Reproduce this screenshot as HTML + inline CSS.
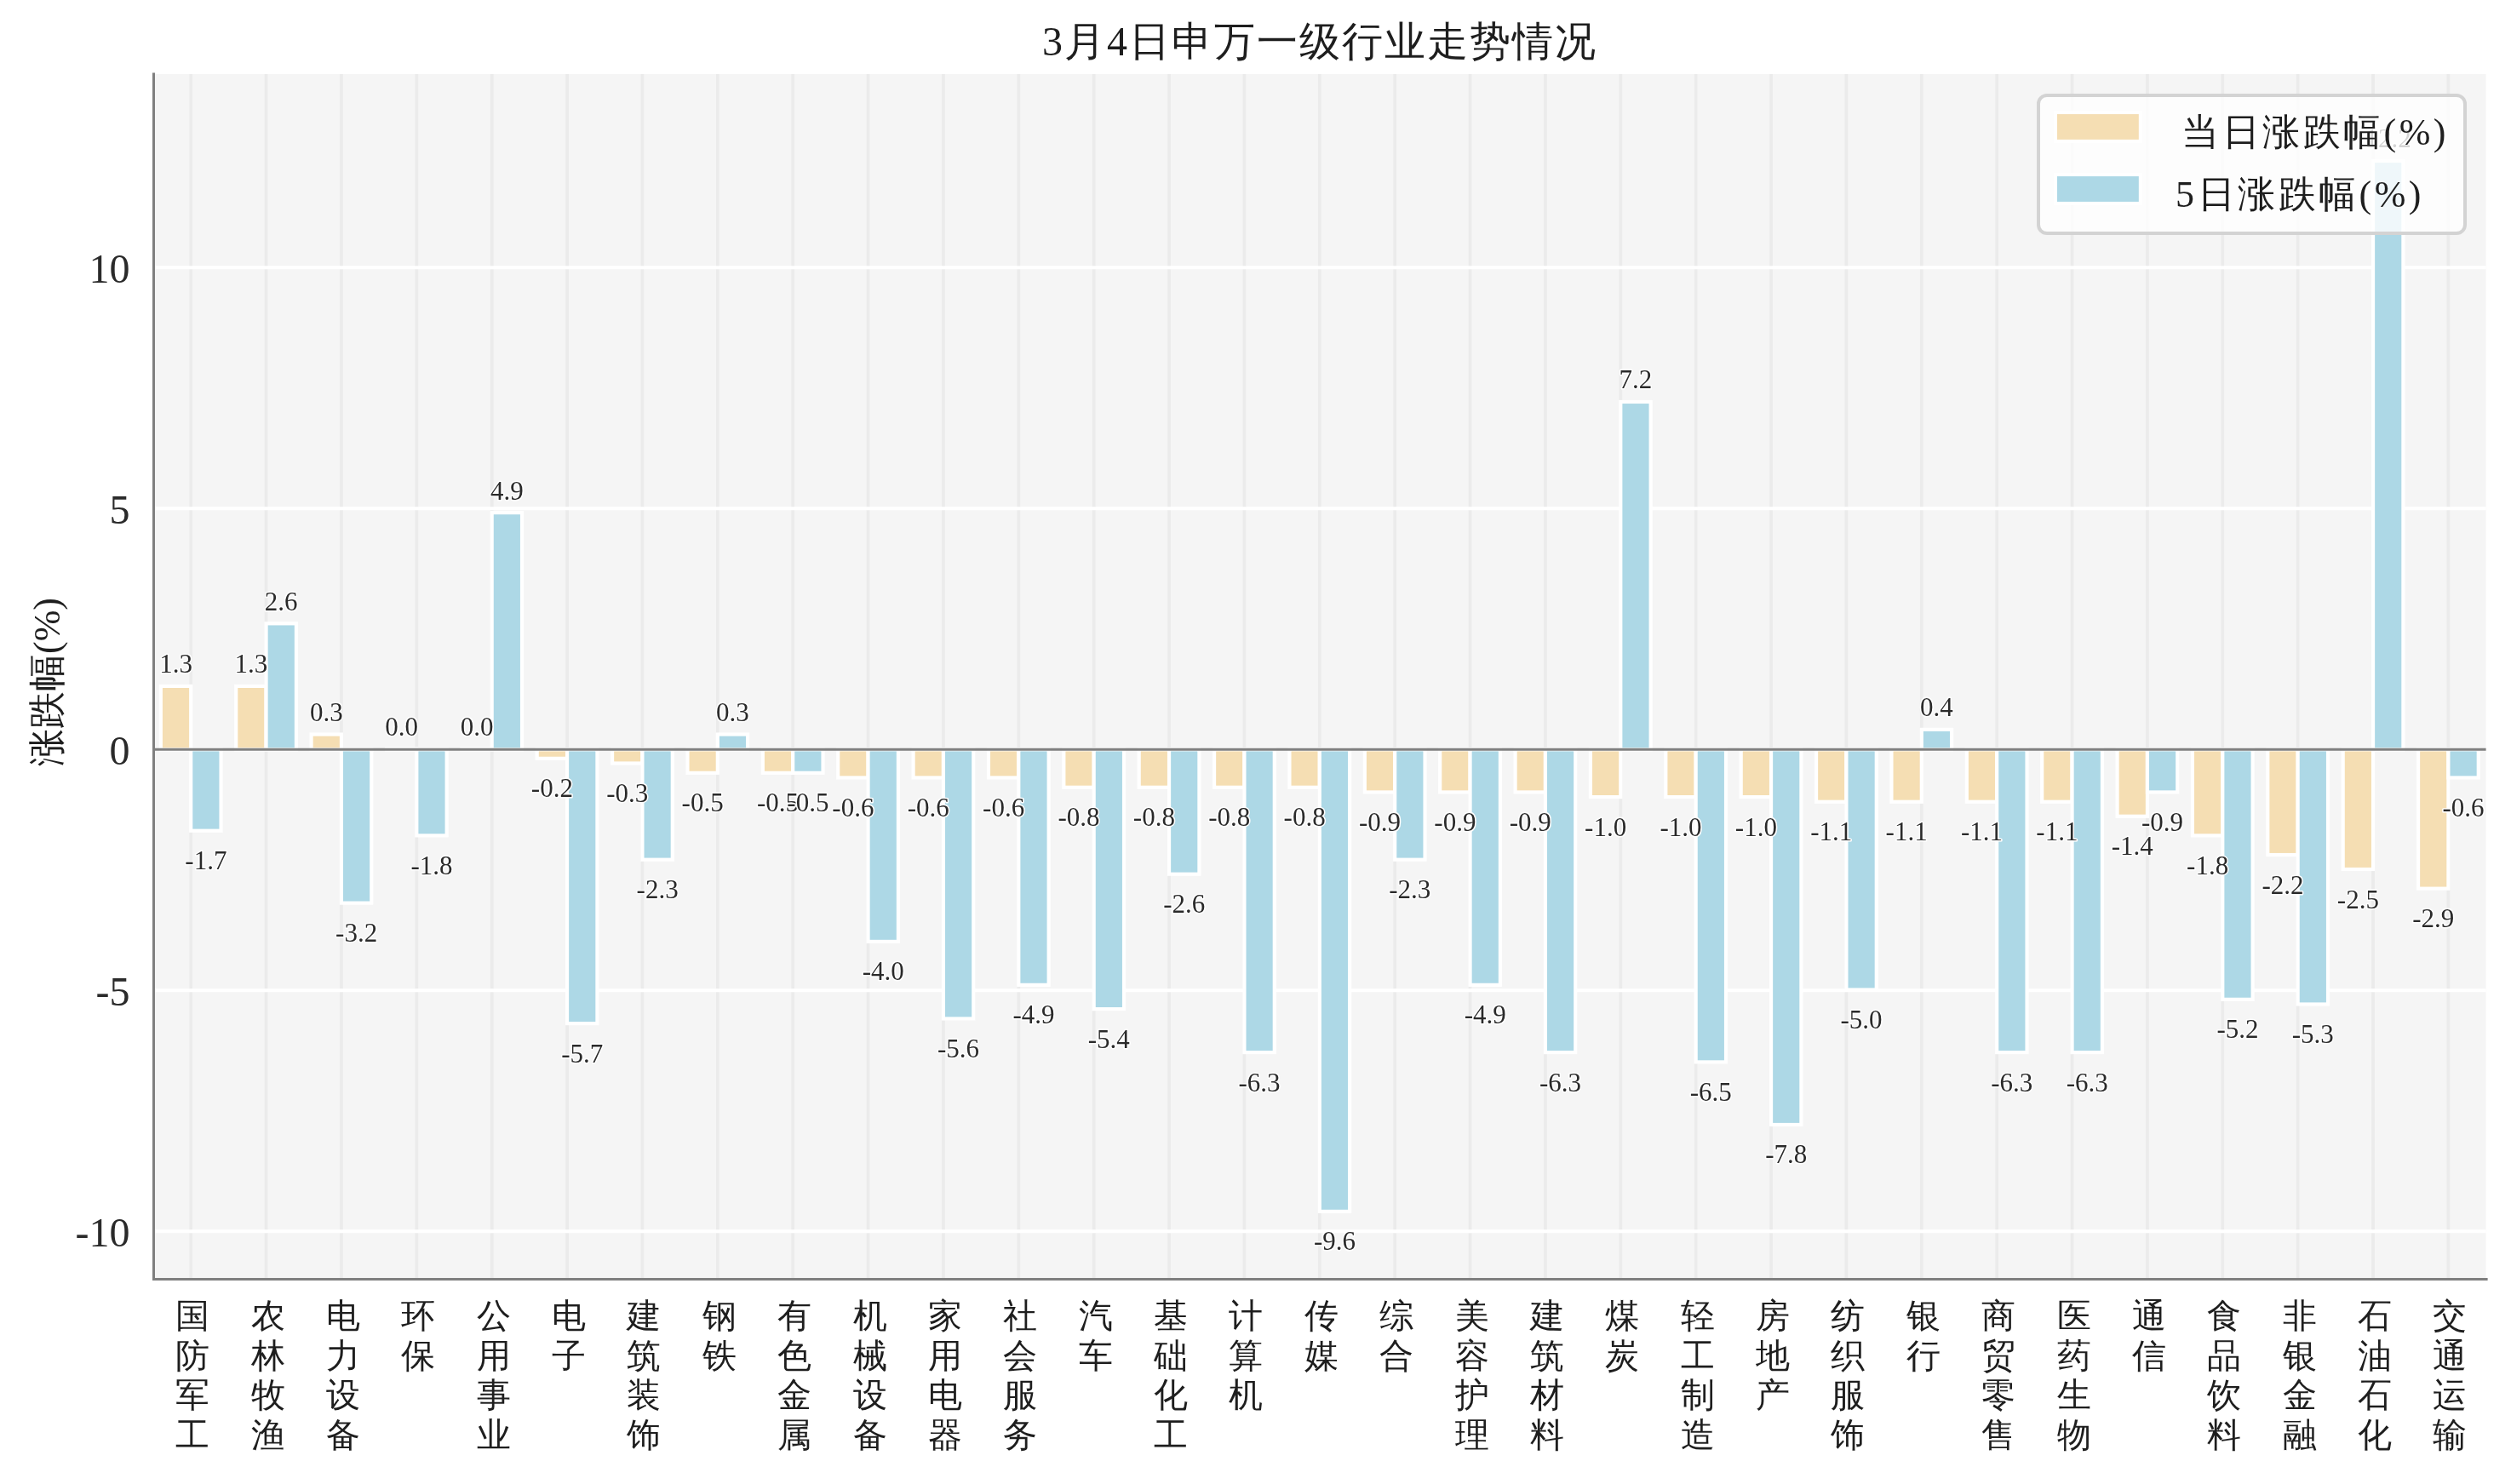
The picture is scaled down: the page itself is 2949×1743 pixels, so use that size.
<!DOCTYPE html>
<html><head><meta charset="utf-8"><title>3月4日申万一级行业走势情况</title>
<style>html,body{margin:0;padding:0;background:#fff;}svg{display:block;}text{font-family:"Liberation Serif",serif;}.gs{opacity:0.999}</style></head><body>
<svg width="2949" height="1743" viewBox="0 0 2949 1743">
<rect x="0" y="0" width="2949" height="1743" fill="#fff"/>
<g class="gs">
<rect x="180.5" y="87.0" width="2739.10" height="1415.50" fill="#f5f5f5"/>
<path d="M224.19 87.0V1502.5M312.56 87.0V1502.5M400.94 87.0V1502.5M489.31 87.0V1502.5M577.68 87.0V1502.5M666.06 87.0V1502.5M754.43 87.0V1502.5M842.81 87.0V1502.5M931.18 87.0V1502.5M1019.55 87.0V1502.5M1107.93 87.0V1502.5M1196.30 87.0V1502.5M1284.68 87.0V1502.5M1373.05 87.0V1502.5M1461.43 87.0V1502.5M1549.80 87.0V1502.5M1638.17 87.0V1502.5M1726.55 87.0V1502.5M1814.92 87.0V1502.5M1903.30 87.0V1502.5M1991.67 87.0V1502.5M2080.05 87.0V1502.5M2168.42 87.0V1502.5M2256.79 87.0V1502.5M2345.17 87.0V1502.5M2433.54 87.0V1502.5M2521.92 87.0V1502.5M2610.29 87.0V1502.5M2698.66 87.0V1502.5M2787.04 87.0V1502.5M2875.41 87.0V1502.5" stroke="#ebebeb" stroke-width="3.7" fill="none"/>
<path d="M180.5 314.30H2919.6M180.5 597.30H2919.6M180.5 1163.30H2919.6M180.5 1446.30H2919.6" stroke="#ffffff" stroke-width="4" fill="none"/>
<rect x="188.84" y="805.92" width="35.35" height="74.38" fill="#f5deb3" stroke="#fff" stroke-width="4.17"/>
<rect x="224.19" y="880.30" width="35.35" height="95.42" fill="#add8e6" stroke="#fff" stroke-width="4.17"/>
<rect x="277.21" y="805.92" width="35.35" height="74.38" fill="#f5deb3" stroke="#fff" stroke-width="4.17"/>
<rect x="312.56" y="732.34" width="35.35" height="147.96" fill="#add8e6" stroke="#fff" stroke-width="4.17"/>
<rect x="365.59" y="862.52" width="35.35" height="17.78" fill="#f5deb3" stroke="#fff" stroke-width="4.17"/>
<rect x="400.94" y="880.30" width="35.35" height="180.32" fill="#add8e6" stroke="#fff" stroke-width="4.17"/>
<rect x="453.96" y="879.50" width="35.35" height="0.80" fill="#f5deb3" stroke="#fff" stroke-width="4.17"/>
<rect x="489.31" y="880.30" width="35.35" height="101.08" fill="#add8e6" stroke="#fff" stroke-width="4.17"/>
<rect x="542.33" y="879.50" width="35.35" height="0.80" fill="#f5deb3" stroke="#fff" stroke-width="4.17"/>
<rect x="577.68" y="602.16" width="35.35" height="278.14" fill="#add8e6" stroke="#fff" stroke-width="4.17"/>
<rect x="630.71" y="880.30" width="35.35" height="10.52" fill="#f5deb3" stroke="#fff" stroke-width="4.17"/>
<rect x="666.06" y="880.30" width="35.35" height="321.82" fill="#add8e6" stroke="#fff" stroke-width="4.17"/>
<rect x="719.08" y="880.30" width="35.35" height="16.18" fill="#f5deb3" stroke="#fff" stroke-width="4.17"/>
<rect x="754.43" y="880.30" width="35.35" height="129.38" fill="#add8e6" stroke="#fff" stroke-width="4.17"/>
<rect x="807.46" y="880.30" width="35.35" height="27.50" fill="#f5deb3" stroke="#fff" stroke-width="4.17"/>
<rect x="842.81" y="862.52" width="35.35" height="17.78" fill="#add8e6" stroke="#fff" stroke-width="4.17"/>
<rect x="895.83" y="880.30" width="35.35" height="27.50" fill="#f5deb3" stroke="#fff" stroke-width="4.17"/>
<rect x="931.18" y="880.30" width="35.35" height="27.50" fill="#add8e6" stroke="#fff" stroke-width="4.17"/>
<rect x="984.21" y="880.30" width="35.35" height="33.16" fill="#f5deb3" stroke="#fff" stroke-width="4.17"/>
<rect x="1019.55" y="880.30" width="35.35" height="225.60" fill="#add8e6" stroke="#fff" stroke-width="4.17"/>
<rect x="1072.58" y="880.30" width="35.35" height="33.16" fill="#f5deb3" stroke="#fff" stroke-width="4.17"/>
<rect x="1107.93" y="880.30" width="35.35" height="316.16" fill="#add8e6" stroke="#fff" stroke-width="4.17"/>
<rect x="1160.95" y="880.30" width="35.35" height="33.16" fill="#f5deb3" stroke="#fff" stroke-width="4.17"/>
<rect x="1196.30" y="880.30" width="35.35" height="276.54" fill="#add8e6" stroke="#fff" stroke-width="4.17"/>
<rect x="1249.33" y="880.30" width="35.35" height="44.48" fill="#f5deb3" stroke="#fff" stroke-width="4.17"/>
<rect x="1284.68" y="880.30" width="35.35" height="304.84" fill="#add8e6" stroke="#fff" stroke-width="4.17"/>
<rect x="1337.70" y="880.30" width="35.35" height="44.48" fill="#f5deb3" stroke="#fff" stroke-width="4.17"/>
<rect x="1373.05" y="880.30" width="35.35" height="146.36" fill="#add8e6" stroke="#fff" stroke-width="4.17"/>
<rect x="1426.08" y="880.30" width="35.35" height="44.48" fill="#f5deb3" stroke="#fff" stroke-width="4.17"/>
<rect x="1461.43" y="880.30" width="35.35" height="355.78" fill="#add8e6" stroke="#fff" stroke-width="4.17"/>
<rect x="1514.45" y="880.30" width="35.35" height="44.48" fill="#f5deb3" stroke="#fff" stroke-width="4.17"/>
<rect x="1549.80" y="880.30" width="35.35" height="542.56" fill="#add8e6" stroke="#fff" stroke-width="4.17"/>
<rect x="1602.82" y="880.30" width="35.35" height="50.14" fill="#f5deb3" stroke="#fff" stroke-width="4.17"/>
<rect x="1638.17" y="880.30" width="35.35" height="129.38" fill="#add8e6" stroke="#fff" stroke-width="4.17"/>
<rect x="1691.20" y="880.30" width="35.35" height="50.14" fill="#f5deb3" stroke="#fff" stroke-width="4.17"/>
<rect x="1726.55" y="880.30" width="35.35" height="276.54" fill="#add8e6" stroke="#fff" stroke-width="4.17"/>
<rect x="1779.57" y="880.30" width="35.35" height="50.14" fill="#f5deb3" stroke="#fff" stroke-width="4.17"/>
<rect x="1814.92" y="880.30" width="35.35" height="355.78" fill="#add8e6" stroke="#fff" stroke-width="4.17"/>
<rect x="1867.95" y="880.30" width="35.35" height="55.80" fill="#f5deb3" stroke="#fff" stroke-width="4.17"/>
<rect x="1903.30" y="471.98" width="35.35" height="408.32" fill="#add8e6" stroke="#fff" stroke-width="4.17"/>
<rect x="1956.32" y="880.30" width="35.35" height="55.80" fill="#f5deb3" stroke="#fff" stroke-width="4.17"/>
<rect x="1991.67" y="880.30" width="35.35" height="367.10" fill="#add8e6" stroke="#fff" stroke-width="4.17"/>
<rect x="2044.70" y="880.30" width="35.35" height="55.80" fill="#f5deb3" stroke="#fff" stroke-width="4.17"/>
<rect x="2080.05" y="880.30" width="35.35" height="440.68" fill="#add8e6" stroke="#fff" stroke-width="4.17"/>
<rect x="2133.07" y="880.30" width="35.35" height="61.46" fill="#f5deb3" stroke="#fff" stroke-width="4.17"/>
<rect x="2168.42" y="880.30" width="35.35" height="282.20" fill="#add8e6" stroke="#fff" stroke-width="4.17"/>
<rect x="2221.44" y="880.30" width="35.35" height="61.46" fill="#f5deb3" stroke="#fff" stroke-width="4.17"/>
<rect x="2256.79" y="856.86" width="35.35" height="23.44" fill="#add8e6" stroke="#fff" stroke-width="4.17"/>
<rect x="2309.82" y="880.30" width="35.35" height="61.46" fill="#f5deb3" stroke="#fff" stroke-width="4.17"/>
<rect x="2345.17" y="880.30" width="35.35" height="355.78" fill="#add8e6" stroke="#fff" stroke-width="4.17"/>
<rect x="2398.19" y="880.30" width="35.35" height="61.46" fill="#f5deb3" stroke="#fff" stroke-width="4.17"/>
<rect x="2433.54" y="880.30" width="35.35" height="355.78" fill="#add8e6" stroke="#fff" stroke-width="4.17"/>
<rect x="2486.57" y="880.30" width="35.35" height="78.44" fill="#f5deb3" stroke="#fff" stroke-width="4.17"/>
<rect x="2521.92" y="880.30" width="35.35" height="50.14" fill="#add8e6" stroke="#fff" stroke-width="4.17"/>
<rect x="2574.94" y="880.30" width="35.35" height="101.08" fill="#f5deb3" stroke="#fff" stroke-width="4.17"/>
<rect x="2610.29" y="880.30" width="35.35" height="293.52" fill="#add8e6" stroke="#fff" stroke-width="4.17"/>
<rect x="2663.31" y="880.30" width="35.35" height="123.72" fill="#f5deb3" stroke="#fff" stroke-width="4.17"/>
<rect x="2698.66" y="880.30" width="35.35" height="299.18" fill="#add8e6" stroke="#fff" stroke-width="4.17"/>
<rect x="2751.69" y="880.30" width="35.35" height="140.70" fill="#f5deb3" stroke="#fff" stroke-width="4.17"/>
<rect x="2787.04" y="188.98" width="35.35" height="691.32" fill="#add8e6" stroke="#fff" stroke-width="4.17"/>
<rect x="2840.06" y="880.30" width="35.35" height="163.34" fill="#f5deb3" stroke="#fff" stroke-width="4.17"/>
<rect x="2875.41" y="880.30" width="35.35" height="33.16" fill="#add8e6" stroke="#fff" stroke-width="4.17"/>
<path d="M180.5 880.3H2919.6" stroke="#7f7f7f" stroke-width="3" fill="none"/>
<path d="M180.5 85.5V1504.0M179.0 1502.5H2921.6" stroke="#7f7f7f" stroke-width="3" fill="none"/>
<g font-size="31" fill="#2a2a2a" text-anchor="middle" stroke="#fff" stroke-width="3" paint-order="stroke" stroke-linejoin="round">
<text x="206.51" y="790.42">1.3</text>
<text x="241.86" y="1021.22">-1.7</text>
<text x="294.89" y="790.42">1.3</text>
<text x="330.24" y="716.84">2.6</text>
<text x="383.26" y="847.02">0.3</text>
<text x="418.61" y="1106.12">-3.2</text>
<text x="471.63" y="864.00">0.0</text>
<text x="506.98" y="1026.88">-1.8</text>
<text x="560.01" y="864.00">0.0</text>
<text x="595.36" y="586.66">4.9</text>
<text x="648.38" y="936.32">-0.2</text>
<text x="683.73" y="1247.62">-5.7</text>
<text x="736.76" y="941.98">-0.3</text>
<text x="772.11" y="1055.18">-2.3</text>
<text x="825.13" y="953.30">-0.5</text>
<text x="860.48" y="847.02">0.3</text>
<text x="913.51" y="953.30">-0.5</text>
<text x="948.86" y="953.30">-0.5</text>
<text x="1001.88" y="958.96">-0.6</text>
<text x="1037.23" y="1151.40">-4.0</text>
<text x="1090.25" y="958.96">-0.6</text>
<text x="1125.60" y="1241.96">-5.6</text>
<text x="1178.63" y="958.96">-0.6</text>
<text x="1213.98" y="1202.34">-4.9</text>
<text x="1267.00" y="970.28">-0.8</text>
<text x="1302.35" y="1230.64">-5.4</text>
<text x="1355.38" y="970.28">-0.8</text>
<text x="1390.73" y="1072.16">-2.6</text>
<text x="1443.75" y="970.28">-0.8</text>
<text x="1479.10" y="1281.58">-6.3</text>
<text x="1532.13" y="970.28">-0.8</text>
<text x="1567.47" y="1468.36">-9.6</text>
<text x="1620.50" y="975.94">-0.9</text>
<text x="1655.85" y="1055.18">-2.3</text>
<text x="1708.87" y="975.94">-0.9</text>
<text x="1744.22" y="1202.34">-4.9</text>
<text x="1797.25" y="975.94">-0.9</text>
<text x="1832.60" y="1281.58">-6.3</text>
<text x="1885.62" y="981.60">-1.0</text>
<text x="1920.97" y="456.48">7.2</text>
<text x="1974.00" y="981.60">-1.0</text>
<text x="2009.35" y="1292.90">-6.5</text>
<text x="2062.37" y="981.60">-1.0</text>
<text x="2097.72" y="1366.48">-7.8</text>
<text x="2150.74" y="987.26">-1.1</text>
<text x="2186.09" y="1208.00">-5.0</text>
<text x="2239.12" y="987.26">-1.1</text>
<text x="2274.47" y="841.36">0.4</text>
<text x="2327.49" y="987.26">-1.1</text>
<text x="2362.84" y="1281.58">-6.3</text>
<text x="2415.87" y="987.26">-1.1</text>
<text x="2451.22" y="1281.58">-6.3</text>
<text x="2504.24" y="1004.24">-1.4</text>
<text x="2539.59" y="975.94">-0.9</text>
<text x="2592.62" y="1026.88">-1.8</text>
<text x="2627.97" y="1219.32">-5.2</text>
<text x="2680.99" y="1049.52">-2.2</text>
<text x="2716.34" y="1224.98">-5.3</text>
<text x="2769.36" y="1066.50">-2.5</text>
<text x="2804.71" y="173.48">12.2</text>
<text x="2857.74" y="1089.14">-2.9</text>
<text x="2893.09" y="958.96">-0.6</text>
</g>
<g font-size="48" fill="#2a2a2a" text-anchor="end">
<text x="152.5" y="332.20">10</text>
<text x="152.5" y="615.20">5</text>
<text x="152.5" y="898.20">0</text>
<text x="152.5" y="1181.20">-5</text>
<text x="152.5" y="1464.20">-10</text>
</g>
<text transform="translate(70,801) rotate(-90)" font-size="44" fill="#1e1e1e" text-anchor="middle">涨跌幅(%)</text>
<g font-size="40" fill="#1e1e1e" text-anchor="middle">
<text x="226.19" y="1559.00">国</text>
<text x="226.19" y="1605.50">防</text>
<text x="226.19" y="1652.00">军</text>
<text x="226.19" y="1698.50">工</text>
<text x="314.56" y="1559.00">农</text>
<text x="314.56" y="1605.50">林</text>
<text x="314.56" y="1652.00">牧</text>
<text x="314.56" y="1698.50">渔</text>
<text x="402.94" y="1559.00">电</text>
<text x="402.94" y="1605.50">力</text>
<text x="402.94" y="1652.00">设</text>
<text x="402.94" y="1698.50">备</text>
<text x="491.31" y="1559.00">环</text>
<text x="491.31" y="1605.50">保</text>
<text x="579.68" y="1559.00">公</text>
<text x="579.68" y="1605.50">用</text>
<text x="579.68" y="1652.00">事</text>
<text x="579.68" y="1698.50">业</text>
<text x="668.06" y="1559.00">电</text>
<text x="668.06" y="1605.50">子</text>
<text x="756.43" y="1559.00">建</text>
<text x="756.43" y="1605.50">筑</text>
<text x="756.43" y="1652.00">装</text>
<text x="756.43" y="1698.50">饰</text>
<text x="844.81" y="1559.00">钢</text>
<text x="844.81" y="1605.50">铁</text>
<text x="933.18" y="1559.00">有</text>
<text x="933.18" y="1605.50">色</text>
<text x="933.18" y="1652.00">金</text>
<text x="933.18" y="1698.50">属</text>
<text x="1021.55" y="1559.00">机</text>
<text x="1021.55" y="1605.50">械</text>
<text x="1021.55" y="1652.00">设</text>
<text x="1021.55" y="1698.50">备</text>
<text x="1109.93" y="1559.00">家</text>
<text x="1109.93" y="1605.50">用</text>
<text x="1109.93" y="1652.00">电</text>
<text x="1109.93" y="1698.50">器</text>
<text x="1198.30" y="1559.00">社</text>
<text x="1198.30" y="1605.50">会</text>
<text x="1198.30" y="1652.00">服</text>
<text x="1198.30" y="1698.50">务</text>
<text x="1286.68" y="1559.00">汽</text>
<text x="1286.68" y="1605.50">车</text>
<text x="1375.05" y="1559.00">基</text>
<text x="1375.05" y="1605.50">础</text>
<text x="1375.05" y="1652.00">化</text>
<text x="1375.05" y="1698.50">工</text>
<text x="1463.43" y="1559.00">计</text>
<text x="1463.43" y="1605.50">算</text>
<text x="1463.43" y="1652.00">机</text>
<text x="1551.80" y="1559.00">传</text>
<text x="1551.80" y="1605.50">媒</text>
<text x="1640.17" y="1559.00">综</text>
<text x="1640.17" y="1605.50">合</text>
<text x="1728.55" y="1559.00">美</text>
<text x="1728.55" y="1605.50">容</text>
<text x="1728.55" y="1652.00">护</text>
<text x="1728.55" y="1698.50">理</text>
<text x="1816.92" y="1559.00">建</text>
<text x="1816.92" y="1605.50">筑</text>
<text x="1816.92" y="1652.00">材</text>
<text x="1816.92" y="1698.50">料</text>
<text x="1905.30" y="1559.00">煤</text>
<text x="1905.30" y="1605.50">炭</text>
<text x="1993.67" y="1559.00">轻</text>
<text x="1993.67" y="1605.50">工</text>
<text x="1993.67" y="1652.00">制</text>
<text x="1993.67" y="1698.50">造</text>
<text x="2082.05" y="1559.00">房</text>
<text x="2082.05" y="1605.50">地</text>
<text x="2082.05" y="1652.00">产</text>
<text x="2170.42" y="1559.00">纺</text>
<text x="2170.42" y="1605.50">织</text>
<text x="2170.42" y="1652.00">服</text>
<text x="2170.42" y="1698.50">饰</text>
<text x="2258.79" y="1559.00">银</text>
<text x="2258.79" y="1605.50">行</text>
<text x="2347.17" y="1559.00">商</text>
<text x="2347.17" y="1605.50">贸</text>
<text x="2347.17" y="1652.00">零</text>
<text x="2347.17" y="1698.50">售</text>
<text x="2435.54" y="1559.00">医</text>
<text x="2435.54" y="1605.50">药</text>
<text x="2435.54" y="1652.00">生</text>
<text x="2435.54" y="1698.50">物</text>
<text x="2523.92" y="1559.00">通</text>
<text x="2523.92" y="1605.50">信</text>
<text x="2612.29" y="1559.00">食</text>
<text x="2612.29" y="1605.50">品</text>
<text x="2612.29" y="1652.00">饮</text>
<text x="2612.29" y="1698.50">料</text>
<text x="2700.66" y="1559.00">非</text>
<text x="2700.66" y="1605.50">银</text>
<text x="2700.66" y="1652.00">金</text>
<text x="2700.66" y="1698.50">融</text>
<text x="2789.04" y="1559.00">石</text>
<text x="2789.04" y="1605.50">油</text>
<text x="2789.04" y="1652.00">石</text>
<text x="2789.04" y="1698.50">化</text>
<text x="2877.41" y="1559.00">交</text>
<text x="2877.41" y="1605.50">通</text>
<text x="2877.41" y="1652.00">运</text>
<text x="2877.41" y="1698.50">输</text>
</g>
<text x="1550" y="65" font-size="48" fill="#1e1e1e" text-anchor="middle" letter-spacing="2">3月4日申万一级行业走势情况</text>
<rect x="2394" y="112" width="501" height="162" rx="10" ry="10" fill="#fff" fill-opacity="0.8" stroke="#d3d3d3" stroke-width="4"/>
<rect x="2413.9" y="132.0" width="100" height="34" fill="#f5deb3" stroke="#fff" stroke-width="4.17"/>
<rect x="2413.9" y="205.0" width="100" height="34" fill="#add8e6" stroke="#fff" stroke-width="4.17"/>
<text x="2562" y="170" font-size="44" fill="#1e1e1e" letter-spacing="3.5">当日涨跌幅(%)</text>
<text x="2555" y="243" font-size="44" fill="#1e1e1e" letter-spacing="3.5">5日涨跌幅(%)</text>
</g>
</svg></body></html>
